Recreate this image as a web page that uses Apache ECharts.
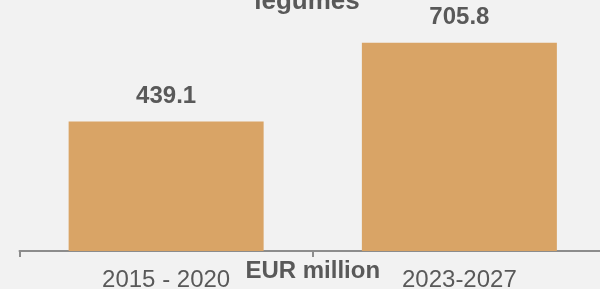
<!DOCTYPE html>
<html>
<head>
<meta charset="utf-8">
<script src="https://cdn.jsdelivr.net/npm/echarts@6/dist/echarts.min.js"></script>
<style>
  html, body { margin: 0; padding: 0; background: #f2f2f2; }
  #chart { width: 600px; height: 289px; }
</style>
</head>
<body>
<div id="chart"></div>
<script>
var periods = ["2015 - 2020", "2023-2027"];
var funding = [439.1, 705.8];

var myChart = echarts.init(document.getElementById("chart"));
myChart.setOption({
  backgroundColor: "#f2f2f2",
  textStyle: { fontFamily: "Liberation Sans, Arial, sans-serif" },
  title: {
    text: "legumes",
    left: 302,
    textAlign: "center",
    top: -16,
    textStyle: {
      fontSize: 26,
      fontWeight: "bold",
      color: "#595959"
    }
  },
  grid: {
    left: 19.5,
    width: 586.5,
    top: 15,
    bottom: 38,
    containLabel: false,
    outerBoundsMode: "none"
  },
  xAxis: {
    type: "category",
    data: periods,
    name: "EUR million",
    nameLocation: "middle",
    nameGap: 8,
    nameMoveOverlap: false,
    nameTextStyle: {
      fontSize: 24,
      fontWeight: "bold",
      color: "#595959",
      verticalAlign: "top"
    },
    axisLine: { lineStyle: { color: "#8c8c8c", width: 2 } },
    axisTick: { show: true, length: 6, lineStyle: { color: "#8c8c8c", width: 2 } },
    axisLabel: {
      fontSize: 24,
      color: "#595959",
      margin: 17
    }
  },
  yAxis: {
    type: "value",
    min: 0,
    max: 800,
    show: false,
    splitLine: { show: false }
  },
  series: [
    {
      type: "bar",
      data: funding,
      barWidth: 195,
      itemStyle: { color: "#d9a466" },
      label: {
        show: true,
        position: "top",
        distance: 13,
        fontSize: 24,
        fontWeight: "bold",
        color: "#595959"
      }
    }
  ]
});
</script>
</body>
</html>
